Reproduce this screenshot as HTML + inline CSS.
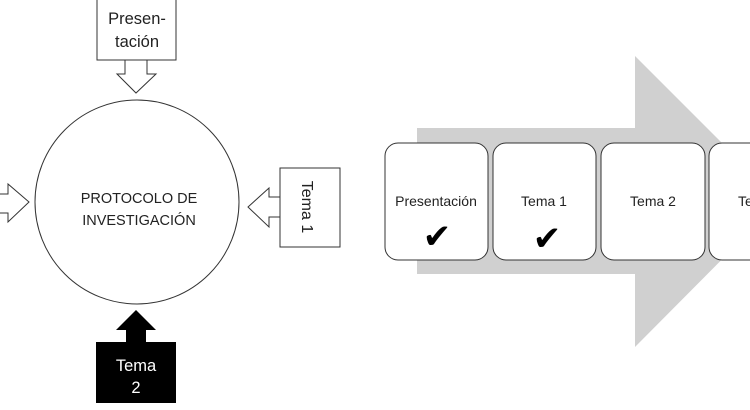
<!DOCTYPE html>
<html><head><meta charset="utf-8"><style>
html,body{margin:0;padding:0;background:#fff;width:750px;height:410px;overflow:hidden}
svg{display:block}
text{font-family:"Liberation Sans",sans-serif;}
</style></head><body>
<svg width="750" height="410" viewBox="0 0 750 410">
<circle cx="137" cy="202" r="102" fill="#fff" stroke="#333" stroke-width="1"/>
<text x="139" y="203" font-size="14.5" text-anchor="middle" fill="#222">PROTOCOLO DE</text>
<text x="139" y="225" font-size="14.5" text-anchor="middle" fill="#222">INVESTIGACIÓN</text>
<rect x="97" y="-1" width="79" height="61" fill="#fff" stroke="#333"/>
<text x="137" y="24" font-size="16.5" text-anchor="middle" fill="#222">Presen-</text>
<text x="137" y="47" font-size="16.5" text-anchor="middle" fill="#222">tación</text>
<polygon points="125,60 147,60 147,74 156,74 136,93 117,74 125,74" fill="#fff" stroke="#333"/>
<polygon points="-2,194 8,194 8,184 29,202 8,222 8,213 -2,213" fill="#fff" stroke="#333"/>
<rect x="280" y="168" width="60" height="79" fill="#fff" stroke="#333"/>
<text x="0" y="0" font-size="16" fill="#222" transform="translate(302,207) rotate(90)" text-anchor="middle">Tema 1</text>
<polygon points="280,197 269,197 269,188 248,207 269,227 269,217 280,217" fill="#fff" stroke="#333"/>
<polygon points="126,342 126,330 116,330 136,310 156,330 146,330 146,342" fill="#000"/>
<rect x="96" y="342" width="80" height="61" fill="#000"/>
<text x="136" y="371" font-size="16.5" text-anchor="middle" fill="#fff">Tema</text>
<text x="136" y="393" font-size="16.5" text-anchor="middle" fill="#fff">2</text>
<polygon points="417,128 635,128 635,56 780,201 635,347 635,274 417,274" fill="#d0d0d0"/>
<g fill="#fff" stroke="#333" stroke-width="1">
<rect x="385" y="143" width="103" height="117" rx="13"/>
<rect x="493" y="143" width="103" height="117" rx="13"/>
<rect x="601" y="143" width="104" height="117" rx="13"/>
<rect x="709" y="143" width="104" height="117" rx="13"/>
</g>
<g font-size="14" fill="#222" text-anchor="middle">
<text x="436" y="206">Presentación</text>
<text x="544" y="206">Tema 1</text>
<text x="653" y="206">Tema 2</text>
<text x="761" y="206">Tema 3</text>
</g>
<g font-size="34" fill="#000" text-anchor="middle" font-family="DejaVu Sans">
<text x="437" y="248">✔</text>
<text x="547" y="250">✔</text>
</g>
</svg>
</body></html>
